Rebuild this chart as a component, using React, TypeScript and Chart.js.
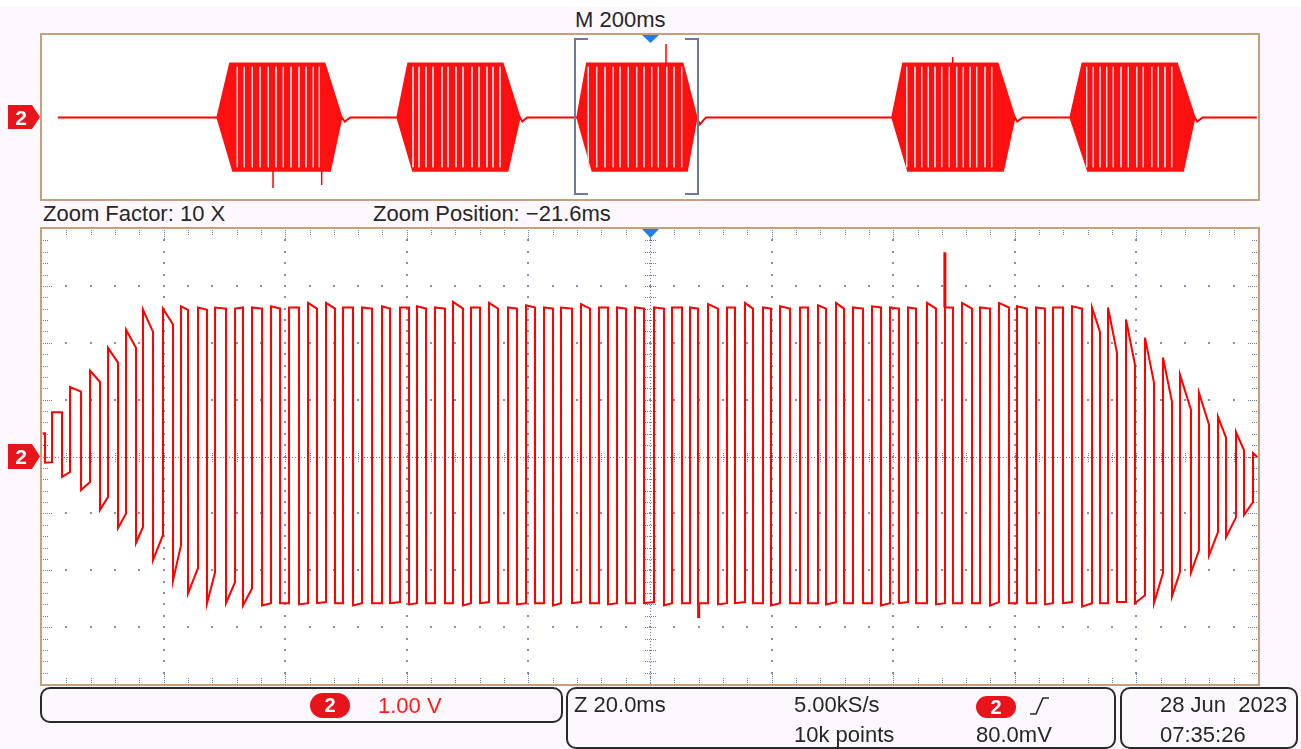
import React, { useEffect, useRef } from "react";
import { Chart, registerables } from "chart.js";
Chart.register(...registerables);

const FONT = '"Liberation Sans", Arial, sans-serif';
const TRACE = "#ff0000";
const GRID = "#8391ad";
const GRID_DARK = "#6f7d9b";

// ---------- Zoomed window (20 ms/div, 1.00 V/div), one entry per square-wave cycle ----------
const mainXMinMs = -121.6;
const mainXMaxMs = 78.4;
const riseMs = [-121.5, -119.95, -116.99, -113.7, -110.74, -107.78, -104.99, -101.7, -98.74, -95.94, -93.14, -89.85, -87.06, -83.93, -80.97, -77.85, -74.89, -72.09, -68.97, -65.68, -62.72, -59.92, -56.96, -54.0, -51.04, -48.08, -44.95, -41.99, -39.03, -36.24, -32.95, -29.99, -27.03, -24.07, -20.94, -17.98, -15.02, -12.06, -8.94, -5.98, -3.01, -0.22, 3.07, 6.03, 8.99, 11.79, 14.91, 17.87, 20.83, 23.96, 26.92, 29.71, 32.68, 35.8, 38.76, 41.89, 44.68, 47.81, 51.1, 53.73, 56.69, 59.81, 62.77, 65.57, 68.69, 71.82, 74.78, 77.58];
const fallMs = [-121.1, -118.31, -115.18, -112.06, -109.1, -106.14, -103.34, -100.05, -97.59, -94.46, -91.34, -88.54, -85.41, -82.45, -79.33, -76.37, -73.41, -70.45, -67.32, -64.36, -61.24, -58.44, -55.32, -52.36, -49.56, -46.6, -43.47, -40.51, -37.55, -34.43, -31.47, -28.51, -25.55, -22.59, -19.3, -16.34, -13.71, -10.42, -7.62, -4.66, -1.7, 1.43, 4.39, 7.35, 10.31, 13.43, 16.39, 19.35, 22.15, 25.44, 28.23, 31.36, 34.32, 37.44, 40.4, 43.36, 46.33, 49.45, 52.41, 55.21, 58.17, 61.29, 64.25, 67.38, 70.34, 73.14, 76.1, 78.3];
const highStartV = [0.41, 0.78, 1.22, 1.51, 1.91, 2.23, 2.58, 2.6, 2.64, 2.62, 2.62, 2.6, 2.62, 2.64, 2.62, 2.7, 2.7, 2.62, 2.62, 2.64, 2.62, 2.64, 2.62, 2.72, 2.62, 2.7, 2.62, 2.66, 2.62, 2.62, 2.68, 2.62, 2.62, 2.62, 2.62, 2.62, 2.62, 2.68, 2.62, 2.7, 2.62, 2.64, 2.62, 2.66, 2.7, 2.62, 2.64, 2.62, 2.62, 2.7, 2.62, 2.7, 2.62, 2.7, 2.64, 2.62, 2.62, 2.64, 2.62, 2.62, 2.41, 2.09, 1.74, 1.44, 1.12, 0.7, 0.43, 0.06];
const highEndV = [0.41, 0.78, 1.14, 1.31, 1.65, 1.91, 2.19, 2.32, 2.58, 2.58, 2.6, 2.62, 2.6, 2.6, 2.62, 2.6, 2.6, 2.62, 2.6, 2.6, 2.62, 2.6, 2.6, 2.6, 2.62, 2.6, 2.6, 2.62, 2.6, 2.6, 2.6, 2.62, 2.6, 2.6, 2.6, 2.62, 2.6, 2.6, 2.62, 2.6, 2.6, 2.6, 2.62, 2.6, 2.6, 2.6, 2.62, 2.6, 2.6, 2.6, 2.62, 2.6, 2.6, 2.62, 2.6, 2.6, 2.62, 2.6, 2.19, 1.82, 1.61, 1.3, 0.96, 0.82, 0.56, 0.33, 0.11, -0.01];
const lowStartV = [-0.11, -0.36, -0.59, -0.94, -1.26, -1.52, -1.82, -2.18, -2.41, -2.58, -2.58, -2.62, -2.62, -2.58, -2.6, -2.58, -2.58, -2.62, -2.58, -2.58, -2.6, -2.58, -2.58, -2.62, -2.58, -2.58, -2.6, -2.58, -2.62, -2.58, -2.58, -2.6, -2.58, -2.58, -2.62, -2.58, -2.58, -2.6, -2.58, -2.58, -2.62, -2.58, -2.58, -2.6, -2.58, -2.58, -2.62, -2.58, -2.58, -2.6, -2.58, -2.58, -2.62, -2.58, -2.58, -2.6, -2.58, -2.64, -2.58, -2.56, -2.58, -2.58, -2.46, -2.04, -1.74, -1.42, -1.03];
const lowEndV = [-0.1, -0.27, -0.45, -0.71, -1.0, -1.24, -1.38, -1.56, -1.96, -2.04, -2.21, -2.32, -2.58, -2.58, -2.58, -2.56, -2.58, -2.58, -2.58, -2.56, -2.58, -2.58, -2.58, -2.58, -2.56, -2.58, -2.58, -2.58, -2.58, -2.56, -2.58, -2.58, -2.58, -2.56, -2.58, -2.58, -2.58, -2.58, -2.56, -2.58, -2.58, -2.58, -2.58, -2.56, -2.58, -2.58, -2.58, -2.56, -2.58, -2.58, -2.58, -2.58, -2.56, -2.58, -2.58, -2.58, -2.56, -2.58, -2.58, -2.56, -2.44, -2.05, -2.03, -1.65, -1.33, -1.07, -0.8];
const glitchMs = [-13.6, 26.9];
const glitchFromV = [-2.58, 2.62];
const glitchToV = [-2.84, 3.59];

// ---------- Overview record (200 ms/div, 1.00 V/div) ----------
const ovXMinMs = -1000;
const ovXMaxMs = 1000;
const baselineMs = [-974, -507, -502, -493, -214, -210, -202, 77, 82, 92, 600, 604, 613, 896, 900, 909, 998];
const baselineV = [-0.02, -0.02, -0.22, -0.02, -0.02, -0.22, -0.02, -0.02, -0.36, -0.02, -0.02, -0.22, -0.02, -0.02, -0.22, -0.02, -0.02];
const burstLeaveMs = [-712, -416, -120, 398, 691];
const burstTopStartMs = [-691, -398, -104, 416, 711];
const burstTopEndMs = [-535, -242, 54, 572, 867];
const burstReturnMs = [-507, -214, 77, 600, 896];
const burstBotStartMs = [-686, -390, -95, 424, 720];
const burstBotEndMs = [-526, -234, 61, 581, 877];
const burstHighV = [2.62, 2.62, 2.62, 2.62, 2.62];
const burstLowV = [-2.64, -2.64, -2.64, -2.64, -2.64];
const gapMs = [
  -678.8, -667.3, -654.1, -641.4, -627.8, -615.1, -603.1, -590.4, -577.3, -565.8, -553.8, -543.9,
  -389.8, -379.9, -368.4, -356.9, -342.1, -332.2, -319.1, -307.6, -292.8, -281.2, -268.1, -258.2, -246.7,
  -101.5, -87.7, -74.0, -60.4, -49.3, -35.7, -21.9, -9.9, 2.8, 13.7, 27.5, 39.5, 52.1,
  422.2, 435.8, 446.9, 457.7, 468.7, 479.8, 492.3, 504.4, 515.3, 526.3, 537.3, 551.0, 562.0,
  718.2, 729.1, 740.1, 751.1, 762.0, 774.7, 786.7, 800.5, 811.3, 825.2, 836.0, 847.0, 858.1,
];
const gapTopV = 2.45;
const gapBottomV = -2.45;
const ovSpikeMs = [-620, -540, 26.3, 497.8];
const ovSpikeFromV = [-2.62, -2.62, 2.62, 2.62];
const ovSpikeToV = [-3.46, -3.32, 3.56, 2.93];

function buildMainTrace() {
  const pts: any[] = [];
  for (let i = 0; i < riseMs.length; i++) {
    if (i > 0) pts.push({ x: riseMs[i], y: lowEndV[i - 1] });
    pts.push({ x: riseMs[i], y: highStartV[i] });
    pts.push({ x: fallMs[i], y: highEndV[i] });
    if (i < lowStartV.length) pts.push({ x: fallMs[i], y: lowStartV[i] });
  }
  return pts;
}

function segments(xs: number[], from: number[], to: number[]) {
  const pts: any[] = [];
  xs.forEach((x, i) => {
    pts.push({ x, y: from[i] }, { x, y: to[i] }, { x, y: null });
  });
  return pts;
}

function burstShape(i: number) {
  const b = baselineV[0];
  return [
    { x: burstLeaveMs[i], y: b },
    { x: burstTopStartMs[i], y: burstHighV[i] },
    { x: burstTopEndMs[i], y: burstHighV[i] },
    { x: burstReturnMs[i], y: b },
    { x: burstBotEndMs[i], y: burstLowV[i] },
    { x: burstBotStartMs[i], y: burstLowV[i] },
    { x: burstLeaveMs[i], y: b },
  ];
}

const graticule = {
  id: "graticule",
  beforeDatasetsDraw(chart: any) {
    const { ctx, chartArea: a } = chart;
    const w = a.right - a.left;
    const h = a.bottom - a.top;
    const dx = w / 10;
    const dy = h / 8;
    ctx.save();
    const dot = (x: number, y: number, s = 2) => ctx.fillRect(Math.round(x) - (s > 1 ? 1 : 0), Math.round(y) - (s > 1 ? 1 : 0), s, s);
    ctx.fillStyle = GRID;
    for (let i = 1; i < 10; i++) {
      if (i === 5) continue;
      const x = a.left + i * dx;
      for (let k = 1; k < 40; k++) dot(x, a.top + (k * dy) / 5);
    }
    for (let j = 1; j < 8; j++) {
      if (j === 4) continue;
      const y = a.top + j * dy;
      for (let k = 1; k < 50; k++) dot(a.left + (k * dx) / 5, y);
    }
    const cx = a.left + 5 * dx;
    const cy = a.top + 4 * dy;
    ctx.fillStyle = GRID_DARK;
    for (let x = a.left + 1; x < a.right; x += 3) dot(x, cy, 1);
    for (let y = a.top + 1; y < a.bottom; y += 3) dot(cx, y, 1);
    for (let k = 1; k < 50; k++) {
      const x = a.left + (k * dx) / 5;
      for (let d = -4; d <= 4; d += 2) dot(x, cy + d, 1);
    }
    for (let k = 1; k < 40; k++) {
      const y = a.top + (k * dy) / 5;
      for (let d = -5; d <= 5; d += 2) dot(cx + d, y, 1);
    }
    for (let k = 1; k < 50; k++) {
      const x = a.left + (k * dx) / 5;
      const len = k % 5 === 0 ? 10 : 4;
      for (let d = 0; d <= len; d += 2) {
        dot(x, a.top + 1 + d, 1);
        dot(x, a.bottom - 2 - d, 1);
      }
    }
    for (let k = 1; k < 40; k++) {
      const y = a.top + (k * dy) / 5;
      const len = k % 5 === 0 ? 8 : 4;
      for (let d = 0; d <= len; d += 2) {
        dot(a.left + 1 + d, y, 1);
        dot(a.right - 2 - d, y, 1);
      }
    }
    ctx.restore();
  },
};

function baseOptions(xmin: number, xmax: number) {
  return {
    animation: false as const,
    responsive: false,
    maintainAspectRatio: false,
    devicePixelRatio: 1,
    layout: { padding: 0 },
    plugins: { legend: { display: false }, tooltip: { enabled: false }, title: { display: false } },
    elements: { point: { radius: 0 }, line: { tension: 0 } },
    scales: {
      x: { type: "linear" as const, min: xmin, max: xmax, display: false },
      y: { type: "linear" as const, min: -4, max: 4, display: false },
    },
  };
}

function Txt({ x, base, children, color = "#262626" }: any) {
  return (
    <div
      style={{
        position: "absolute",
        left: x,
        top: base - 19,
        fontSize: 22,
        lineHeight: "22px",
        color,
        whiteSpace: "pre",
        fontFamily: FONT,
      }}
    >
      {children}
    </div>
  );
}

function Badge({ x, y, w, h }: any) {
  return (
    <div
      style={{
        position: "absolute",
        left: x,
        top: y,
        width: w,
        height: h,
        borderRadius: h / 2,
        background: "#e8141c",
        color: "#fff",
        fontFamily: FONT,
        fontWeight: "bold",
        fontSize: 20,
        lineHeight: h + "px",
        textAlign: "center",
      }}
    >
      2
    </div>
  );
}

export default function App() {
  const ovRef = useRef<HTMLCanvasElement>(null);
  const mainRef = useRef<HTMLCanvasElement>(null);

  useEffect(() => {
    const ovDatasets: any[] = [
      { data: segments(gapMs, gapMs.map(() => gapTopV), gapMs.map(() => gapBottomV)), borderColor: "#ffd8d8", borderWidth: 1, spanGaps: false, fill: false },
      { data: segments(ovSpikeMs, ovSpikeFromV, ovSpikeToV), borderColor: TRACE, borderWidth: 1.5, spanGaps: false, fill: false },
    ];
    burstLeaveMs.forEach((_, i) => {
      ovDatasets.push({ data: burstShape(i), borderColor: "#ff1010", backgroundColor: "#ff1010", borderWidth: 1.5, fill: "shape" });
    });
    ovDatasets.push({ data: baselineMs.map((x, i) => ({ x, y: baselineV[i] })), borderColor: TRACE, borderWidth: 2, fill: false });

    const ov = new Chart(ovRef.current!, {
      type: "line",
      data: { datasets: ovDatasets },
      options: baseOptions(ovXMinMs, ovXMaxMs) as any,
    });

    const main = new Chart(mainRef.current!, {
      type: "line",
      data: {
        datasets: [
          { data: segments(glitchMs, glitchFromV, glitchToV), borderColor: TRACE, borderWidth: 3, spanGaps: false, fill: false },
          { data: buildMainTrace(), borderColor: TRACE, borderWidth: 2, fill: false },
        ],
      },
      options: baseOptions(mainXMinMs, mainXMaxMs) as any,
      plugins: [graticule],
    });
    return () => {
      ov.destroy();
      main.destroy();
    };
  }, []);

  return (
    <div style={{ position: "fixed", left: 0, top: 0, width: 1301, height: 749, background: "#fdf8fd", overflow: "hidden", fontFamily: FONT }}>
      <div style={{ position: "absolute", left: 0, top: 0, width: 1301, height: 7, background: "#ffffff" }} />
      <Txt x={575} base={28}>M 200ms</Txt>

      <div style={{ position: "absolute", left: 40, top: 33, width: 1220, height: 168, boxSizing: "border-box", border: "2px solid #c4a07e", background: "#fff" }} />
      <canvas ref={ovRef} width={1216} height={164} style={{ position: "absolute", left: 42, top: 35, width: 1216, height: 164 }} />

      <Txt x={43} base={222}>Zoom Factor: 10 X</Txt>
      <Txt x={373} base={222}>Zoom Position: −21.6ms</Txt>

      <div style={{ position: "absolute", left: 40, top: 227, width: 1220, height: 459, boxSizing: "border-box", border: "2px solid #c4a07e", background: "#fff" }} />
      <canvas ref={mainRef} width={1216} height={455} style={{ position: "absolute", left: 42, top: 229, width: 1216, height: 455 }} />

      <svg width={1301} height={749} style={{ position: "absolute", left: 0, top: 0, pointerEvents: "none" }}>
        <path d="M588 39 H575 V194 H588" fill="none" stroke="#6c7a96" strokeWidth={2} />
        <path d="M685 39 H698 V194 H685" fill="none" stroke="#6c7a96" strokeWidth={2} />
        <polygon points="642,35 659,35 650.5,43" fill="#1f7fe6" />
        <polygon points="642,229 659,229 650.5,238" fill="#1f7fe6" />
        <polygon points="8,105 32,105 40,117 32,129 8,129" fill="#e8141c" />
        <polygon points="8,444 32,444 40,456.5 32,469 8,469" fill="#e8141c" />
        <text x={21} y={125} fill="#fff" fontSize={21} fontWeight="bold" textAnchor="middle" fontFamily={FONT}>2</text>
        <text x={21} y={464} fill="#fff" fontSize={21} fontWeight="bold" textAnchor="middle" fontFamily={FONT}>2</text>
        <polyline points="1030,714 1036,714 1043,698 1049,698" fill="none" stroke="#262626" strokeWidth={1.6} />
      </svg>

      <div style={{ position: "absolute", left: 40, top: 687, width: 523, height: 36, boxSizing: "border-box", border: "2px solid #2a2a2a", borderRadius: 10 }} />
      <div style={{ position: "absolute", left: 566, top: 687, width: 550, height: 62, boxSizing: "border-box", border: "2px solid #2a2a2a", borderRadius: 10 }} />
      <div style={{ position: "absolute", left: 1120, top: 687, width: 178, height: 62, boxSizing: "border-box", border: "2px solid #2a2a2a", borderRadius: 10 }} />

      <Badge x={310} y={693} w={40} h={25} />
      <Txt x={378} base={714} color="#ff1a1a">1.00 V</Txt>

      <Txt x={574} base={713}>Z 20.0ms</Txt>
      <Txt x={794} base={713}>5.00kS/s</Txt>
      <Txt x={794} base={743}>10k points</Txt>
      <Badge x={976} y={696} w={40} h={22} />
      <Txt x={976} base={743}>80.0mV</Txt>

      <Txt x={1160} base={713}>28 Jun  2023</Txt>
      <Txt x={1160} base={743}>07:35:26</Txt>
    </div>
  );
}
